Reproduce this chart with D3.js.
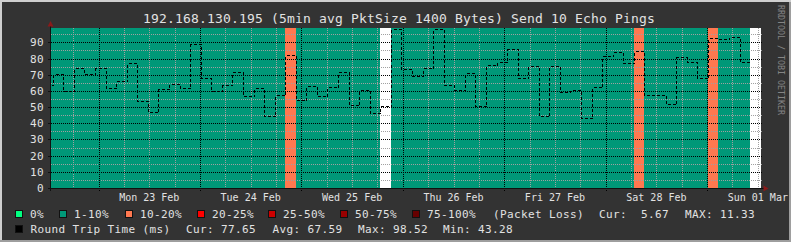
<!DOCTYPE html>
<meta charset="utf-8">
<script src="https://cdn.jsdelivr.net/npm/d3@7"></script>
<style>
  body { margin: 0; background: #333; }
  text { font-family: "DejaVu Sans Mono", monospace; white-space: pre; }
</style>
<div id="chart"></div>
<script>
// round trip time per 2.5h step (first one is a partial step), ms
var rtt = [63.8, 70.6, 59.7, 74.2, 70.6, 74.2, 61.8, 66.1, 77.2, 54.0,
           47.2, 61.2, 64.5, 61.8, 89.2, 68.0, 59.7, 63.7, 71.7, 56.9,
           61.8, 44.5, 57.5, 82.4, 54.4, 63.0, 56.9, 62.4, 71.7, 51.3,
           60.6, 46.4, 50.4, 98.52, 73.7, 69.4, 74.2, 98.5, 63.7, 60.3,
           71.1, 50.4, 76.0, 77.9, 85.9, 68.0, 75.4, 44.5, 75.4, 59.5,
           60.3, 43.28, 62.2, 81.6, 83.8, 77.2, 84.7, 57.5, 57.5, 51.7,
           81.0, 77.9, 68.0, 92.7, 91.8, 93.5, 77.65, null];
// packet loss per step, % (null = unknown)
var loss = [5.67, 5.67, 5.67, 5.67, 5.67, 5.67, 5.67, 5.67, 5.67, 5.67,
            5.67, 5.67, 5.67, 5.67, 5.67, 5.67, 5.67, 5.67, 5.67, 5.67,
            5.67, 5.67, 5.67, 11.33, 5.67, 5.67, 5.67, 5.67, 5.67, 5.67,
            5.67, 5.67, null, 5.67, 5.67, 5.67, 5.67, 5.67, 5.67, 5.67,
            5.67, 5.67, 5.67, 5.67, 5.67, 5.67, 5.67, 5.67, 5.67, 5.67,
            5.67, 5.67, 5.67, 5.67, 5.67, 5.67, 11.33, 5.67, 5.67, 5.67,
            5.67, 5.67, 5.67, 11.33, 5.67, 5.67, 5.67, null];

var lossLabels = ["0%", "1-10%", "10-20%", "20-25%", "25-50%", "50-75%", "75-100%"];
var lossUpper  = [0, 10, 20, 25, 50, 75, 100];
var lossColors = ["#00ff80", "#009878", "#ff7850", "#ff0000", "#cc0000", "#990000", "#660000"];

var title = "192.168.130.195 (5min avg PktSize 1400 Bytes) Send 10 Echo Pings";
var yTicks = [0, 10, 20, 30, 40, 50, 60, 70, 80, 90];
var yMax = 98.9;

var t0 = new Date(Date.UTC(2015, 1, 22, 12, 45)),
    t1 = new Date(Date.UTC(2015, 2, 1, 12, 45)),
    firstStep = new Date(Date.UTC(2015, 1, 22, 13, 10));

function stepStart(i) { return i == 0 ? t0 : d3.utcMinute.offset(firstStep, (i - 1) * 150); }
function stepEnd(i) { return d3.utcMinute.offset(firstStep, i * 150); }

function lossColor(v) {
  if (v == null) return "#ffffff";
  for (var k = 0; k < lossUpper.length; k++) if (v <= lossUpper[k]) return lossColors[k];
  return lossColors[lossColors.length - 1];
}

var W = 791, H = 242;
var pL = 51, pR = 761, pT = 28, pB = 188;

var svg = d3.select("#chart").append("svg")
  .attr("width", W).attr("height", H);

// frame
svg.append("rect").attr("width", W).attr("height", H).attr("fill", "#333333");
svg.append("rect").attr("x", 0).attr("y", 0).attr("width", W).attr("height", 2).attr("fill", "#cfcfcf");
svg.append("rect").attr("x", 0).attr("y", 0).attr("width", 2).attr("height", H).attr("fill", "#cfcfcf");
svg.append("rect").attr("x", 0).attr("y", H - 2).attr("width", W).attr("height", 2).attr("fill", "#9e9e9e");
svg.append("rect").attr("x", W - 2).attr("y", 2).attr("width", 2).attr("height", H - 2).attr("fill", "#9e9e9e");

var x = d3.scaleUtc().domain([t0, t1]).range([pL, pR]);
var y = d3.scaleLinear().domain([0, yMax]).range([pB, pT]);

// loss background bands
svg.append("g").attr("shape-rendering", "crispEdges")
  .selectAll("rect").data(loss).enter().append("rect")
  .attr("x", function(d, i) { return Math.round(x(stepStart(i))); })
  .attr("width", function(d, i) { return Math.round(x(stepEnd(i))) - Math.round(x(stepStart(i))); })
  .attr("y", y(yMax))
  .attr("height", y(0) - y(yMax))
  .attr("fill", function(d) { return lossColor(d); });

// grid
var grid = svg.append("g").attr("shape-rendering", "crispEdges");
var minorY = d3.range(5, yMax, 10);
grid.selectAll(".hmin").data(minorY).enter().append("line")
  .attr("x1", pL).attr("x2", pR + 2)
  .attr("y1", function(d) { return Math.round(y(d)) + 0.5; })
  .attr("y2", function(d) { return Math.round(y(d)) + 0.5; })
  .attr("stroke", "#a0a0a0").attr("stroke-dasharray", "1,1");
var minorX = d3.utcHour.every(6).range(t0, t1).filter(function(d) { return d.getUTCHours() != 0; });
grid.selectAll(".vmin").data(minorX).enter().append("line")
  .attr("x1", function(d) { return Math.round(x(d)) + 0.5; })
  .attr("x2", function(d) { return Math.round(x(d)) + 0.5; })
  .attr("y1", pT).attr("y2", pB)
  .attr("stroke", "#a0a0a0").attr("stroke-dasharray", "1,1");
grid.selectAll(".hmaj").data(yTicks.slice(1)).enter().append("line")
  .attr("x1", pL).attr("x2", pR + 2)
  .attr("y1", function(d) { return Math.round(y(d)) + 0.5; })
  .attr("y2", function(d) { return Math.round(y(d)) + 0.5; })
  .attr("stroke", "#000").attr("stroke-dasharray", "1,1");
var days = d3.utcDay.range(t0, t1);
grid.selectAll(".vmaj").data(days).enter().append("line")
  .attr("x1", function(d) { return Math.round(x(d)) + 0.5; })
  .attr("x2", function(d) { return Math.round(x(d)) + 0.5; })
  .attr("y1", pT).attr("y2", pB + 3)
  .attr("stroke", "#000").attr("stroke-dasharray", "1,1");

// axes
grid.append("line").attr("x1", pL).attr("x2", pR + 3)
  .attr("y1", pB + 0.5).attr("y2", pB + 0.5).attr("stroke", "#111");
grid.append("line").attr("x1", pL - 0.5).attr("x2", pL - 0.5)
  .attr("y1", pT - 2).attr("y2", pB + 3).attr("stroke", "#111");
grid.selectAll(".yt").data(yTicks).enter().append("line")
  .attr("x1", pL - 3).attr("x2", pL)
  .attr("y1", function(d) { return Math.round(y(d)) + 0.5; })
  .attr("y2", function(d) { return Math.round(y(d)) + 0.5; })
  .attr("stroke", "#111");

// arrows
svg.append("path")
  .attr("d", d3.line()([[pL - 3.5, pT - 1.5], [pL - 0.5, pT - 7], [pL + 2.5, pT - 1.5]]) + "Z")
  .attr("fill", "#8a1a1a");
svg.append("path")
  .attr("d", d3.line()([[pR + 2.5, pB - 2.5], [pR + 7.5, pB + 0.5], [pR + 2.5, pB + 3.5]]) + "Z")
  .attr("fill", "#8a1a1a");

// round trip time line (step)
var pts = [];
rtt.forEach(function(v, i) {
  pts.push({t: stepStart(i), v: v});
  pts.push({t: stepEnd(i), v: v});
});
var line = d3.line()
  .defined(function(d) { return d.v != null; })
  .x(function(d) { return Math.round(x(d.t)) + 0.5; })
  .y(function(d) { return Math.round(y(d.v)) + 0.5; });
svg.append("path")
  .attr("d", line(pts))
  .attr("fill", "none")
  .attr("stroke", "#000")
  .attr("stroke-width", 1)
  .attr("stroke-dasharray", "3,2")
  .attr("shape-rendering", "crispEdges");

// labels
var fg = "#e2e2e2";
svg.append("text").attr("x", 399).attr("y", 23)
  .attr("text-anchor", "middle").attr("font-size", "13px")
  .attr("letter-spacing", "0.17px").attr("fill", fg).text(title);

svg.selectAll(".ylab").data(yTicks).enter().append("text")
  .attr("x", 44).attr("y", function(d) { return y(d) + 4; })
  .attr("text-anchor", "end").attr("font-size", "11px")
  .attr("letter-spacing", "0.38px").attr("fill", fg)
  .text(function(d) { return d; });

var noons = days.map(function(d) { return d3.utcHour.offset(d, 12); })
  .filter(function(d) { return d <= t1; });
svg.selectAll(".xlab").data(noons).enter().append("text")
  .attr("x", function(d) { return x(d); }).attr("y", 201)
  .attr("text-anchor", "middle").attr("font-size", "10px")
  .attr("fill", fg)
  .text(d3.utcFormat("%a %d %b"));

svg.append("text")
  .attr("transform", "translate(778,5) rotate(90)")
  .attr("font-size", "8.3px").attr("fill", "#858585")
  .text("RRDTOOL / TOBI OETIKER");

// legend
var sqX = [15, 59, 125, 197, 268, 340, 412];
var leg = svg.append("g").attr("font-size", "11px").attr("letter-spacing", "0.38px").attr("fill", fg);
lossLabels.forEach(function(lab, k) {
  leg.append("rect").attr("x", sqX[k] + 0.5).attr("y", 210.5).attr("width", 7).attr("height", 7)
    .attr("fill", lossColors[k]).attr("stroke", "#111").attr("shape-rendering", "crispEdges");
  leg.append("text").attr("x", sqX[k] + 15).attr("y", 218).text(lab);
});
leg.append("text").attr("x", 493).attr("y", 218).text("(Packet Loss)");
leg.append("text").attr("x", 599).attr("y", 218).text("Cur:  5.67");
leg.append("text").attr("x", 685).attr("y", 218).text("MAX: 11.33");

leg.append("rect").attr("x", 15.5).attr("y", 225.5).attr("width", 7).attr("height", 7)
  .attr("fill", "#000").attr("stroke", "#111").attr("shape-rendering", "crispEdges");
leg.append("text").attr("x", 30.5).attr("y", 233).text("Round Trip Time (ms)");
leg.append("text").attr("x", 186).attr("y", 233).text("Cur: 77.65");
leg.append("text").attr("x", 272.5).attr("y", 233).text("Avg: 67.59");
leg.append("text").attr("x", 358).attr("y", 233).text("Max: 98.52");
leg.append("text").attr("x", 443).attr("y", 233).text("Min: 43.28");
</script>
